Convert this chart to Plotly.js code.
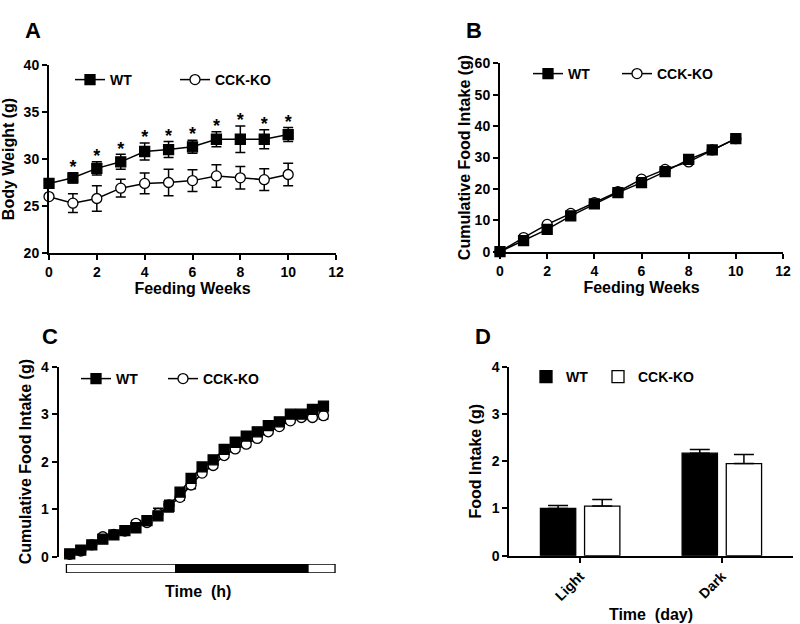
<!DOCTYPE html>
<html>
<head>
<meta charset="utf-8">
<script src="https://cdn.plot.ly/plotly-3.0.1.min.js"></script>
<style>html,body{margin:0;padding:0;background:#fff;}#chart{width:800px;height:624px;}</style>
</head>
<body>
<div id="chart"></div>
<script>
// ---- Panel A: body weight ----
const weeks = [0, 1, 2, 3, 4, 5, 6, 7, 8, 9, 10];
const wtBodyWeight = [27.4, 28.0, 29.0, 29.7, 30.8, 31.0, 31.3, 32.1, 32.1, 32.1, 32.6];
const wtBodyWeightErr = [0.2, 0.55, 0.7, 0.8, 0.9, 0.85, 0.7, 0.8, 1.4, 1.0, 0.75];
const koBodyWeight = [26.0, 25.3, 25.8, 26.9, 27.4, 27.5, 27.7, 28.2, 28.0, 27.8, 28.35];
const koBodyWeightErr = [0.2, 1.0, 1.35, 0.95, 1.1, 1.4, 1.15, 1.2, 1.2, 1.15, 1.2];
const sigWeeks = [1, 2, 3, 4, 5, 6, 7, 8, 9, 10];

// ---- Panel B: cumulative food intake (weeks) ----
const wtCumIntake = [0, 3.5, 7.1, 11.4, 15.2, 18.8, 22.0, 25.5, 29.4, 32.4, 36.0];
const koCumIntake = [0, 4.5, 8.7, 12.2, 15.6, 19.1, 23.1, 26.2, 28.6, 32.4, 36.0];

// ---- Panel C: cumulative food intake (hours) ----
const hours = [1,2,3,4,5,6,7,8,9,10,11,12,13,14,15,16,17,18,19,20,21,22,23,24];
const wtHourly = [0.06,0.14,0.25,0.37,0.46,0.55,0.61,0.76,0.86,1.06,1.36,1.65,1.89,2.04,2.26,2.41,2.54,2.63,2.76,2.84,3.0,3.0,3.10,3.17];
const wtHourlyErr = [0.02,0.02,0.03,0.03,0.03,0.03,0.03,0.04,0.05,0.12,0.05,0.04,0.04,0.04,0.04,0.04,0.04,0.04,0.04,0.04,0.04,0.04,0.04,0.05];
const koHourly = [0.05,0.12,0.25,0.42,0.47,0.54,0.70,0.72,0.91,1.09,1.25,1.51,1.76,1.92,2.13,2.27,2.37,2.49,2.63,2.74,2.86,2.93,2.93,2.97];
const koHourlyErr = [0.02,0.02,0.03,0.03,0.03,0.03,0.06,0.04,0.11,0.10,0.06,0.08,0.04,0.05,0.04,0.05,0.06,0.04,0.04,0.04,0.04,0.04,0.04,0.07];
const phaseStart = [0.7, 10.6, 22.6];
const phaseEnd = [10.6, 22.6, 25.05];

// ---- Panel D: food intake per phase ----
const phases = ['Light', 'Dark'];
const wtPhaseIntake = [1.0, 2.17];
const wtPhaseErr = [0.06, 0.08];
const koPhaseIntake = [1.05, 1.95];
const koPhaseErr = [0.14, 0.19];

const W = 800, H = 624;
const FONT = 'Liberation Sans, Arial, sans-serif';
const px = v => v / W;
const py = v => 1 - v / H;

function lineTrace(x, y, err, name, filled, xa, ya, legend) {
  const t = {
    x: x, y: y, name: name, type: 'scatter', mode: 'lines+markers',
    xaxis: xa, yaxis: ya, legend: legend,
    line: {color: 'black', width: 1.5},
    marker: {symbol: filled ? 'square' : 'circle', size: 10, color: filled ? 'black' : 'white',
             line: {color: 'black', width: 1.3}},
    cliponaxis: false
  };
  if (err) t.error_y = {type: 'data', array: err, visible: true, color: 'black', thickness: 1.5, width: 5};
  return t;
}

const traces = [
  lineTrace(weeks, koBodyWeight, koBodyWeightErr, 'CCK-KO', false, 'x', 'y', 'legend2'),
  lineTrace(weeks, wtBodyWeight, wtBodyWeightErr, 'WT', true, 'x', 'y', 'legend'),
  {
    x: sigWeeks, y: sigWeeks.map(w => wtBodyWeight[w] + wtBodyWeightErr[w] + 0.45),
    type: 'scatter', mode: 'text', text: sigWeeks.map(() => '*'), showlegend: false,
    textfont: {family: FONT, size: 18, color: 'black', weight: 'bold'},
    xaxis: 'x', yaxis: 'y', cliponaxis: false, hoverinfo: 'skip'
  },
  lineTrace(weeks, koCumIntake, null, 'CCK-KO', false, 'x2', 'y2', 'legend4'),
  lineTrace(weeks, wtCumIntake, null, 'WT', true, 'x2', 'y2', 'legend3'),
  lineTrace(hours, koHourly, koHourlyErr, 'CCK-KO', false, 'x3', 'y3', 'legend6'),
  lineTrace(hours, wtHourly, wtHourlyErr, 'WT', true, 'x3', 'y3', 'legend5'),
  {
    type: 'bar', orientation: 'h', y: ['cycle', 'cycle', 'cycle'],
    base: phaseStart, x: phaseEnd.map((e, i) => e - phaseStart[i]),
    marker: {color: ['white', 'black', 'white'], line: {color: 'black', width: 1.3}},
    width: 1, xaxis: 'x5', yaxis: 'y5', showlegend: false, hoverinfo: 'skip'
  },
  {
    type: 'bar', x: phases, y: wtPhaseIntake, name: 'WT', xaxis: 'x4', yaxis: 'y4', legend: 'legend7',
    marker: {color: 'black', line: {color: 'black', width: 1.3}},
    error_y: {type: 'data', symmetric: false, array: wtPhaseErr, arrayminus: [0, 0], color: 'black', thickness: 1.5, width: 10}
  },
  {
    type: 'bar', x: phases, y: koPhaseIntake, name: 'CCK-KO', xaxis: 'x4', yaxis: 'y4', legend: 'legend8',
    marker: {color: 'white', line: {color: 'black', width: 1.3}},
    error_y: {type: 'data', symmetric: false, array: koPhaseErr, arrayminus: [0, 0], color: 'black', thickness: 1.5, width: 10}
  }
];

const tickFont = {family: FONT, size: 14, color: 'black', weight: 'bold'};
const titleFont = {family: FONT, size: 16, color: 'black', weight: 'bold'};

function axis(extra) {
  return Object.assign({
    showline: true, linecolor: 'black', linewidth: 2, ticks: 'outside', ticklen: 5,
    tickwidth: 2, tickcolor: 'black', showgrid: false, zeroline: false,
    tickfont: tickFont, fixedrange: true
  }, extra);
}

function legendAt(x, y) {
  return {x: px(x), y: py(y), xanchor: 'left', yanchor: 'middle', orientation: 'h',
          bgcolor: 'rgba(0,0,0,0)', borderwidth: 0,
          font: {family: FONT, size: 14, color: 'black', weight: 'bold'}, itemclick: false};
}

const layout = {
  width: W, height: H, margin: {l: 0, r: 0, t: 0, b: 0},
  paper_bgcolor: 'white', plot_bgcolor: 'white',
  font: {family: FONT, color: 'black', weight: 'bold'},
  barmode: 'group', bargap: 0.377, bargroupgap: 0.2,
  // Panel A
  xaxis: axis({domain: [px(49), px(336)], range: [0, 12], dtick: 2, anchor: 'y',
               title: {text: 'Feeding Weeks', font: titleFont, standoff: 4}}),
  yaxis: axis({domain: [py(253), py(65)], range: [20, 40], dtick: 5, anchor: 'x',
               title: {text: 'Body Weight (g)', font: titleFont, standoff: 5}}),
  // Panel B
  xaxis2: axis({domain: [px(500), px(783)], range: [0, 12], dtick: 2, anchor: 'y2',
                title: {text: 'Feeding Weeks', font: titleFont, standoff: 4}}),
  yaxis2: axis({domain: [py(251.7), py(63.3)], range: [0, 60], dtick: 10, anchor: 'x2',
                title: {text: 'Cumulative Food Intake (g)', font: titleFont, standoff: 0}}),
  // Panel C
  xaxis3: {domain: [px(58.7), px(337.8)], range: [0, 25.3], anchor: 'y3', visible: false, fixedrange: true},
  yaxis3: axis({domain: [py(556.7), py(366.7)], range: [0, 4], dtick: 1, anchor: 'x3',
                title: {text: 'Cumulative Food Intake (g)', font: titleFont, standoff: 5}}),
  xaxis5: {domain: [px(58.7), px(337.8)], range: [0, 25.3], anchor: 'y5', showline: false,
           showgrid: false, zeroline: false, ticks: '', showticklabels: false, fixedrange: true,
           title: {text: 'Time  (h)', font: titleFont, standoff: 12}},
  yaxis5: {domain: [py(573), py(564)], range: [-0.5, 0.5], anchor: 'x5', visible: false, fixedrange: true},
  // Panel D
  xaxis4: axis({domain: [px(509.3), px(792.7)], range: [-0.5, 1.5], anchor: 'y4', tickangle: -45,
                title: {text: 'Time  (day)', font: titleFont, standoff: 6}}),
  yaxis4: axis({domain: [py(555.7), py(366.7)], range: [0, 4], dtick: 1, anchor: 'x4',
                title: {text: 'Food Intake (g)', font: titleFont, standoff: 6}}),
  legend: legendAt(70, 80),
  legend2: legendAt(175, 80),
  legend3: legendAt(528, 74),
  legend4: legendAt(617, 74),
  legend5: legendAt(76, 379),
  legend6: legendAt(163, 379),
  legend7: legendAt(526, 377),
  legend8: legendAt(598, 377),
  annotations: [
    {text: 'A', x: px(23), y: py(16), xref: 'paper', yref: 'paper', showarrow: false, font: {family: FONT, size: 22, weight: 'bold', color: 'black'}},
    {text: 'B', x: px(474), y: py(16), xref: 'paper', yref: 'paper', showarrow: false, font: {family: FONT, size: 22, weight: 'bold', color: 'black'}},
    {text: 'C', x: px(40), y: py(336), xref: 'paper', yref: 'paper', showarrow: false, font: {family: FONT, size: 22, weight: 'bold', color: 'black'}},
    {text: 'D', x: px(483), y: py(336), xref: 'paper', yref: 'paper', showarrow: false, font: {family: FONT, size: 22, weight: 'bold', color: 'black'}}
  ],
  showlegend: true
};

Plotly.newPlot('chart', traces, layout, {staticPlot: true, displayModeBar: false});
</script>
</body>
</html>
